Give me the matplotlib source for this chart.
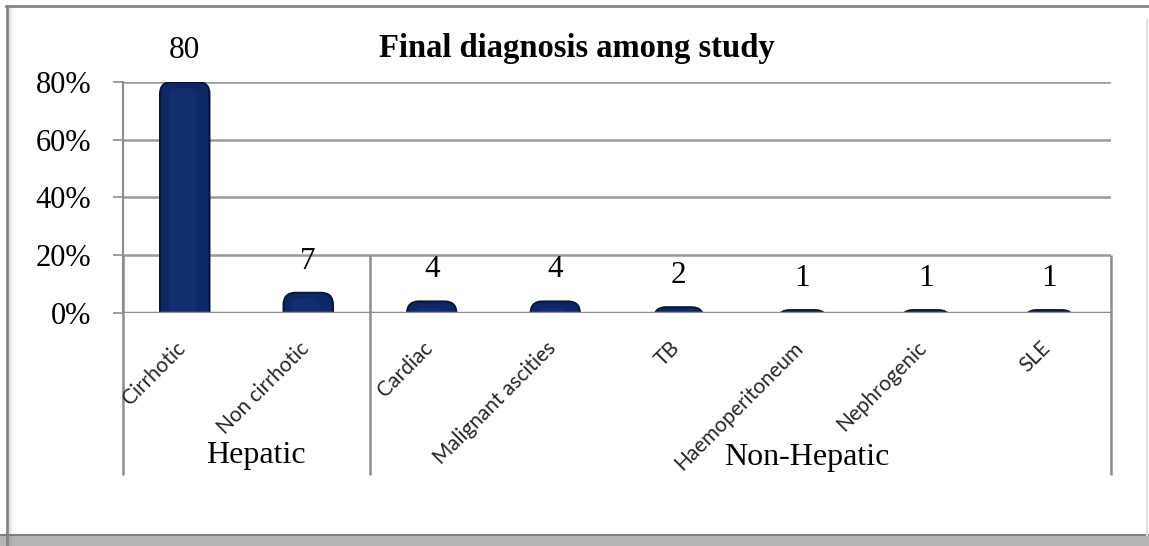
import matplotlib
matplotlib.use("Agg")
import matplotlib.pyplot as plt
from matplotlib.patches import FancyBboxPatch, Rectangle
from matplotlib.lines import Line2D

# data
categories = ["Cirrhotic", "Non cirrhotic", "Cardiac", "Malignant ascities",
              "TB", "Haemoperitoneum", "Nephrogenic", "SLE"]
percent = [80, 7, 4, 4, 2, 1, 1, 1]
groups = ["Hepatic", "Non-Hepatic"]
group_sizes = [2, 6]
yticks = [0, 20, 40, 60, 80]
title = "Final diagnosis among study"

W, H = 1149, 546
fig = plt.figure(figsize=(W / 100, H / 100), dpi=100)
serif = ["Liberation Serif", "DejaVu Serif"]

# plot area in pixels: x 123..1111, y 82 (80%) .. 313 (0%)
ax = fig.add_axes([123 / W, 1 - 313 / H, (1111 - 123) / W, (313 - 82) / H])
ax.set_xlim(-0.5, len(categories) - 0.5)
ax.set_ylim(0, 80)

bars = ax.bar(range(len(categories)), percent, width=0.4, color="#0d2b6b")

# swap plain rectangles for rounded-top ones (bottom pushed below the axis and clipped)
px_x = (1111 - 123) / len(categories)
px_y = (313 - 82) / 80.0
aspect = px_x / px_y
r = 12 / px_x
for b in bars:
    b.set_visible(False)
    x0, w, h = b.get_x(), b.get_width(), b.get_height()
    p = FancyBboxPatch((x0, -12), w, h + 12,
                       boxstyle="round,pad=0,rounding_size=%f" % r,
                       mutation_aspect=aspect, facecolor="#0c2966",
                       edgecolor="#061640", linewidth=1.5, zorder=3)
    ax.add_patch(p)
    if h > 3:
        hl = FancyBboxPatch((x0 + w * 0.18, -12), w * 0.55, h + 12 - r * aspect * 0.5,
                            boxstyle="round,pad=0,rounding_size=%f" % (r * 0.6),
                            mutation_aspect=aspect, facecolor="#1b3c80",
                            edgecolor="none", alpha=0.35, zorder=3)
        ax.add_patch(hl)

# value labels
for i, v in enumerate(percent):
    ax.text(i, v + 11, str(v), ha="center", va="center", fontsize=22.5,
            family=serif, color="black", clip_on=False, zorder=5)

# grid and axes
ax.set_yticks(yticks)
ax.set_yticklabels(["%d%%" % t for t in yticks], family=serif, fontsize=22)
ax.yaxis.grid(True, color="#9a9a9a", linewidth=1.8, zorder=0)
ax.set_axisbelow(True)
ax.tick_params(axis="y", length=7, width=1.2, color="#8c8c8c", pad=16)
ax.set_xticks([])
for s in ["top", "right", "bottom"]:
    ax.spines[s].set_visible(False)
ax.spines["left"].set_color("#8c8c8c")
ax.spines["left"].set_linewidth(1.5)
ax.axhline(0, color="#8c8c8c", linewidth=2.5, zorder=4)

# category labels, rotated
lab_y = -25 / px_y
for i, c in enumerate(categories):
    ax.text(i + 0.04, lab_y, c, rotation=45, ha="right", va="top",
            fontsize=15, family=["Lato", "DejaVu Sans"], color="#262626",
            clip_on=False)

# group separators and group labels
bottom = -(475 - 313) / px_y
edges = [-0.5]
for n in group_sizes:
    edges.append(edges[-1] + n)
ax.vlines(edges, bottom, 20, colors="#8c8c8c", linewidth=1.8, clip_on=False, zorder=1)
group_y = [-(455 - 313) / px_y, -(458 - 313) / px_y]
group_pos = [0.54, 0.59]
for g, a, b, gy, f in zip(groups, edges[:-1], edges[1:], group_y, group_pos):
    ax.text(a + (b - a) * f, gy, g, ha="center", va="center", fontsize=23,
            family=serif, clip_on=False)

fig.text(577 / W, 1 - 48 / H, title, ha="center", va="center", fontsize=23.5,
         fontweight="bold", family=serif)

# chart frame with shadowed edges
fig.add_artist(Line2D([6 / W, 1148 / W], [1 - 6 / H, 1 - 6 / H],
                      transform=fig.transFigure, color="#858585", linewidth=2))
fig.add_artist(Line2D([7 / W, 7 / W], [1 - 6 / H, 0], transform=fig.transFigure,
                      color="#858585", linewidth=2))
for k, a in enumerate([0.25, 0.15, 0.08, 0.04]):
    fig.add_artist(Line2D([(9 + k) / W, (9 + k) / W], [1 - 8 / H, 0],
                          transform=fig.transFigure, color="#888888",
                          alpha=a, linewidth=1))
fig.add_artist(Rectangle((0, 0), 1, 11 / H, transform=fig.transFigure,
                         facecolor="#b5b5b5", edgecolor="none"))
fig.add_artist(Line2D([0, 1], [11 / H, 11 / H], transform=fig.transFigure,
                      color="#808080", linewidth=1.5))
fig.add_artist(Line2D([1147 / W, 1147 / W], [11 / H, 1 - 20 / H],
                      transform=fig.transFigure, color="#e0e0e0", linewidth=1.5))

fig.savefig("out.png", dpi=100)
